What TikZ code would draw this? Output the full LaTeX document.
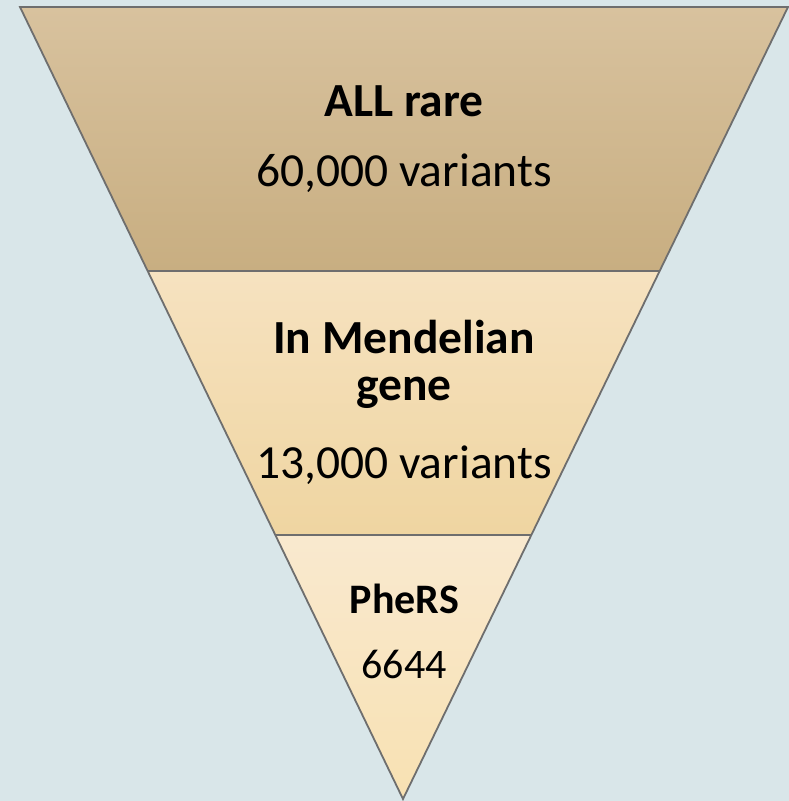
\documentclass[tikz,border=0pt]{standalone}
\usepackage{fontspec}
\setmainfont{Carlito}
\usetikzlibrary{calc}

\definecolor{bgblue}{HTML}{D9E6E9}
\definecolor{edgegray}{HTML}{6E6E6E}
\definecolor{topA}{HTML}{D8C29E}
\definecolor{topB}{HTML}{C8AE81}
\definecolor{midA}{HTML}{F6E2C0}
\definecolor{midB}{HTML}{EFD5A1}
\definecolor{lowA}{HTML}{F9E9CF}
\definecolor{lowB}{HTML}{F8E1B2}

\begin{document}
\begin{tikzpicture}[
    x=1pt, y=-1pt,
    band_edge/.style = {draw=edgegray, line width=1.8pt, line join=miter},
    head_txt/.style = {anchor=base, inner sep=0pt, font=\fontsize{47.5}{56}\selectfont\bfseries},
    num_txt/.style = {anchor=base, inner sep=0pt, font=\fontsize{47.5}{56}\selectfont},
    small_head/.style = {head_txt, font=\fontsize{42}{50}\selectfont\bfseries},
    small_num/.style = {num_txt, font=\fontsize{42}{50}\selectfont}
]

% --- Nền ---
\fill[bgblue] (0,0) rectangle (789,801);
\useasboundingbox (0,0) rectangle (789,801);

% --- Đỉnh tam giác ngược ---
\coordinate (tl) at (20,7);
\coordinate (tr) at (788,7);
\coordinate (apex) at (403,799);
\coordinate (l1) at ($(tl)!1/3!(apex)$);
\coordinate (r1) at ($(tr)!1/3!(apex)$);
\coordinate (l2) at ($(tl)!2/3!(apex)$);
\coordinate (r2) at ($(tr)!2/3!(apex)$);

% --- Ba lớp ---
\shade[top color=topA, bottom color=topB] (tl) -- (tr) -- (r1) -- (l1) -- cycle;
\shade[top color=midA, bottom color=midB] (l1) -- (r1) -- (r2) -- (l2) -- cycle;
\shade[top color=lowA, bottom color=lowB] (l2) -- (r2) -- (apex) -- cycle;

% Viền
\draw[band_edge] (tl) -- (tr) -- (apex) -- cycle;
\draw[band_edge] (l1) -- (r1);
\draw[band_edge] (l2) -- (r2);

% --- Chữ ---
\node[head_txt] (all_head) at (404,116) {ALL rare};
\node[num_txt] (all_num) at (404,186) {60,000 variants};

\node[head_txt] (mend_head1) at (404,353) {In Mendelian};
\node[head_txt] (mend_head2) at (404,400) {gene};
\node[num_txt] (mend_num) at (404,478) {13,000 variants};

\node[small_head] (phers_head) at (404.5,613) {PheRS};
\node[small_num] (phers_num) at (404,678) {6644};

\end{tikzpicture}
\end{document}
